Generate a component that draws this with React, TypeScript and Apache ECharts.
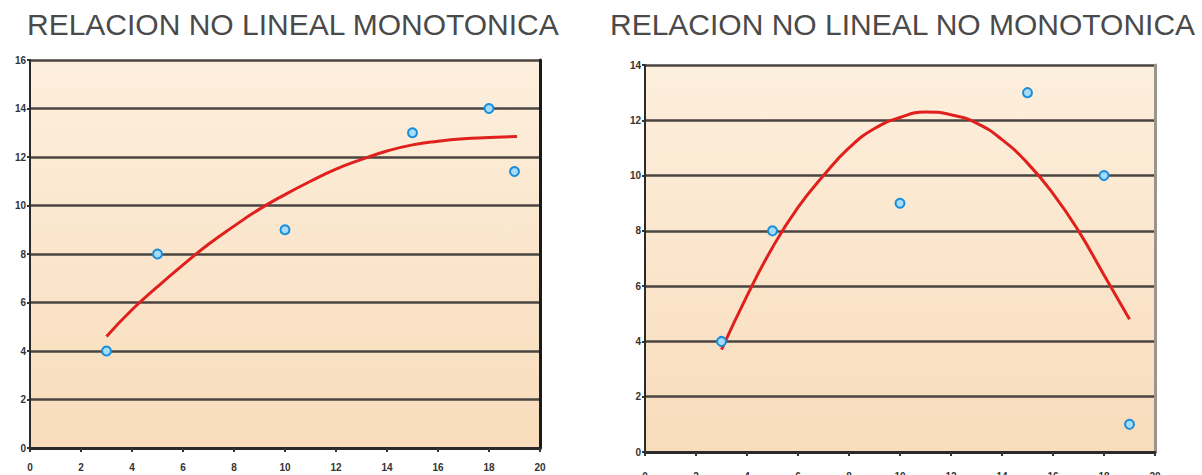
import React, { useEffect, useRef } from "react";
import * as echarts from "echarts";

const titles = ["RELACION NO LINEAL MONOTONICA", "RELACION NO LINEAL NO MONOTONICA"];

const leftPoints: [number, number][] = [
  [3, 4], [5, 8], [10, 9], [15, 13], [18, 14], [19, 11.4],
];
const leftCurve: [number, number][] = [
  [3, 4.6], [4, 5.7], [5, 6.65], [6, 7.55], [7, 8.4], [8, 9.15], [9, 9.85],
  [10, 10.45], [11, 11.0], [12, 11.5], [13, 11.9], [14, 12.25], [15, 12.5],
  [16, 12.65], [17, 12.75], [18, 12.8], [19.1, 12.85],
];
const rightPoints: [number, number][] = [
  [3, 4], [5, 8], [10, 9], [15, 13], [18, 10], [19, 1],
];
const rightCurve: [number, number][] = [
  [3, 3.7], [4, 5.65], [5, 7.4], [6, 8.85], [7, 10.0], [8, 11.0], [9, 11.7],
  [10, 12.1], [11, 12.3], [12, 12.2], [13, 11.9], [14, 11.3], [15, 10.45],
  [16, 9.35], [17, 8.0], [18, 6.4], [19, 4.8],
];
const leftYMax = 16;
const rightYMax = 14;
const xMax = 20;

const bg = {
  type: "linear", x: 0, y: 0, x2: 0, y2: 1,
  colorStops: [
    { offset: 0, color: "#FDEFDD" },
    { offset: 1, color: "#F8DCBB" },
  ],
};

export default function App() {
  const ref = useRef<HTMLDivElement>(null);
  useEffect(() => {
    const chart = echarts.init(ref.current!, null, { renderer: "svg" });
    const xAxisBase = (gi: number, margin: number) => ({
      type: "value", gridIndex: gi, min: 0, max: xMax, interval: 2,
      axisLine: { show: true, lineStyle: { color: "#2a2a2a", width: 3 } },
      axisTick: { show: true, length: 4, inside: false, lineStyle: { color: "#333", width: 2 } },
      axisLabel: { color: "#333", fontSize: 10, fontWeight: "bold", margin, fontFamily: "Liberation Sans" },
      splitLine: { show: false },
    });
    const yAxisBase = (gi: number, max: number) => ({
      type: "value", gridIndex: gi, min: 0, max, interval: 2,
      axisLine: { show: true, lineStyle: { color: "#2a2a2a", width: 2 } },
      axisTick: { show: true, length: 3, lineStyle: { color: "#333", width: 2 } },
      axisLabel: { color: "#333", fontSize: 10, fontWeight: "bold", margin: 4, fontFamily: "Liberation Sans" },
      splitLine: { show: true, lineStyle: { color: "#4a4540", width: 2.5, type: "solid" } },
    });
    chart.setOption({
      animation: false,
      backgroundColor: "#ffffff",
      title: [
        { text: titles[0], left: 22, top: 4, textStyle: { fontSize: 30, fontWeight: "normal", color: "#4a4a4a", fontFamily: "Liberation Sans" } },
        { text: titles[1], left: 605, top: 4, textStyle: { fontSize: 30, fontWeight: "normal", color: "#4a4a4a", fontFamily: "Liberation Sans" } },
      ],
      grid: [
        { left: 30, right: 662, top: 60, bottom: 27, show: true, backgroundColor: bg, borderWidth: 0, z: 0, outerBoundsMode: "none", containLabel: false },
        { left: 645, right: 47, top: 65, bottom: 23, show: true, backgroundColor: bg, borderWidth: 0, z: 0, outerBoundsMode: "none", containLabel: false },
      ],
      xAxis: [xAxisBase(0, 14), xAxisBase(1, 19)],
      yAxis: [
        yAxisBase(0, leftYMax),
        yAxisBase(1, rightYMax),
        { type: "value", gridIndex: 0, position: "right", min: 0, max: leftYMax, interval: 2,
          axisLine: { show: true, lineStyle: { color: "#1a1a1a", width: 3 } },
          axisTick: { show: false }, axisLabel: { show: false }, splitLine: { show: false } },
        { type: "value", gridIndex: 1, position: "right", min: 0, max: rightYMax, interval: 2,
          axisLine: { show: true, lineStyle: { color: "#9a948c", width: 3 } },
          axisTick: { show: false }, axisLabel: { show: false }, splitLine: { show: false } },
      ],
      series: [
        { type: "line", xAxisIndex: 0, yAxisIndex: 0, data: leftCurve, smooth: true, showSymbol: false,
          lineStyle: { color: "#E0201C", width: 3 }, z: 3 },
        { type: "scatter", xAxisIndex: 0, yAxisIndex: 0, data: leftPoints, symbolSize: 9,
          itemStyle: { color: "#a6dcf6", borderColor: "#1a8ddb", borderWidth: 2, opacity: 1 }, z: 4 },
        { type: "line", xAxisIndex: 1, yAxisIndex: 1, data: rightCurve, smooth: true, showSymbol: false,
          lineStyle: { color: "#E0201C", width: 3 }, z: 3 },
        { type: "scatter", xAxisIndex: 1, yAxisIndex: 1, data: rightPoints, symbolSize: 9,
          itemStyle: { color: "#a6dcf6", borderColor: "#1a8ddb", borderWidth: 2, opacity: 1 }, z: 4 },
      ],
    });
    return () => chart.dispose();
  }, []);
  return (
    <div
      ref={ref}
      style={{ position: "fixed", left: 0, top: 0, width: 1202, height: 475, overflow: "hidden" }}
    />
  );
}
